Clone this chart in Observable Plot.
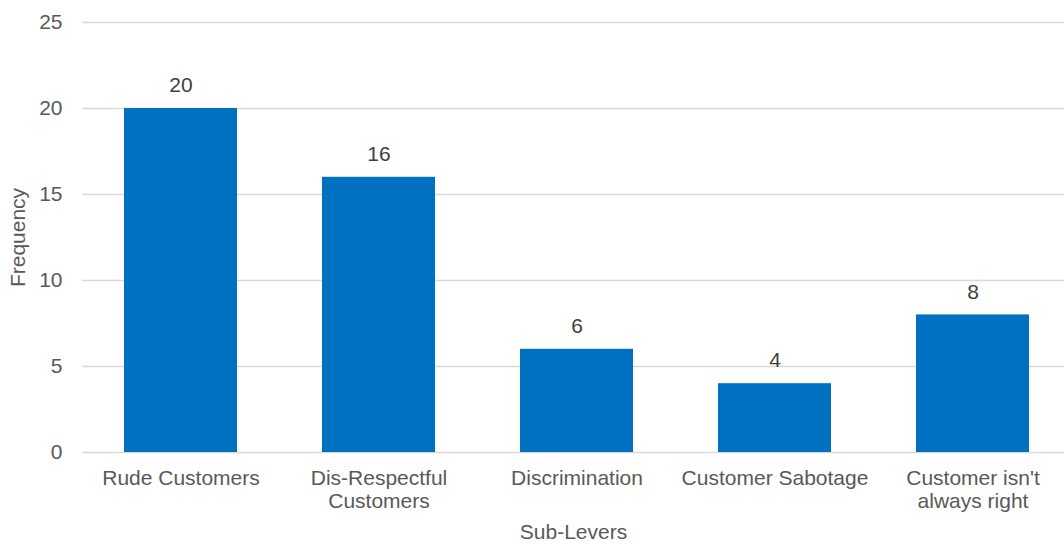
<!DOCTYPE html>
<html>
<head>
<meta charset="utf-8">
<script src="https://cdn.jsdelivr.net/npm/d3@7"></script>
<script src="https://cdn.jsdelivr.net/npm/@observablehq/plot@0.6"></script>
<style>
  html, body { margin: 0; padding: 0; background: #fff; }
  #chart svg { display: block; }
</style>
</head>
<body>
<div id="chart"></div>
<script>
const categories = ["Rude Customers", "Dis-Respectful\nCustomers", "Discrimination", "Customer Sabotage", "Customer isn't\nalways right"];
const values = [20, 16, 6, 4, 8];
const yTicks = [0, 5, 10, 15, 20, 25];
const xTitle = "Sub-Levers";
const yTitle = "Frequency";

const data = categories.map((c, i) => ({category: c, value: values[i]}));
const font = "'Liberation Sans', Arial, sans-serif";

const chart = Plot.plot({
  width: 1064,
  height: 544,
  marginLeft: 82,
  marginRight: 0,
  marginTop: 22,
  marginBottom: 92,
  style: {fontFamily: font, background: "#fff"},
  x: {domain: categories, range: [81.5, 1071.5], paddingInner: 0.43, paddingOuter: 0.215},
  y: {domain: [0, 25]},
  marks: [
    Plot.ruleY(yTicks, {stroke: "#d9d9d9", strokeWidth: 1.3}),
    Plot.barY(data, {x: "category", y: "value", fill: "#0070C0"}),
    Plot.text(data, {x: "category", y: "value", text: d => String(d.value), dy: -23, fontSize: 21, fill: "#404040"}),
    Plot.axisX({tickSize: 0, tickPadding: 15, fontSize: 21, color: "#595959", lineHeight: 1.14, label: null}),
    Plot.axisY({ticks: yTicks, tickSize: 0, tickPadding: 20, fontSize: 21, color: "#595959", label: null}),
    Plot.text([xTitle], {frameAnchor: "bottom", dy: 80, lineAnchor: "middle", fontSize: 21, fill: "#595959"}),
    Plot.text([yTitle], {frameAnchor: "left", dx: -64, rotate: -90, textAnchor: "middle", lineAnchor: "middle", fontSize: 21, fill: "#595959"})
  ]
});
document.getElementById("chart").appendChild(chart);
</script>
</body>
</html>
